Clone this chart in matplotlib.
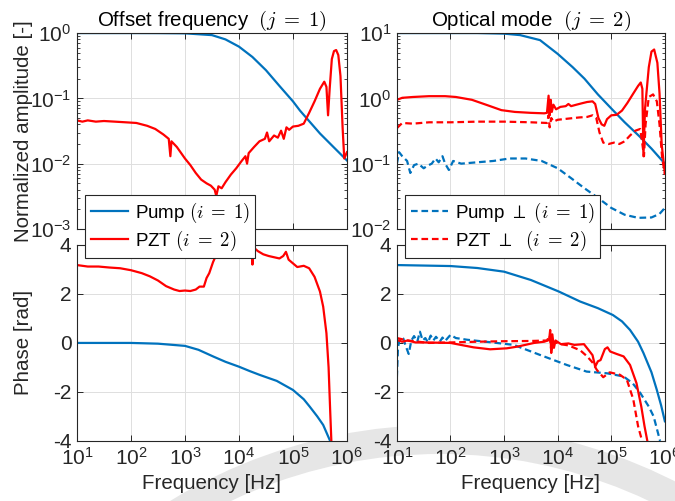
import numpy as np
import matplotlib
matplotlib.use("Agg")
import matplotlib.pyplot as plt
from matplotlib.patches import Wedge
from matplotlib.transforms import IdentityTransform

plt.rcParams['font.family'] = ['Liberation Sans', 'DejaVu Sans']
plt.rcParams['mathtext.fontset'] = 'cm'
plt.rcParams['axes.unicode_minus'] = False

BLUE = '#0072BD'
RED = '#FF0000'

# frequencies are given as log10(f / Hz)
# --- top left: offset frequency amplitude ---
off_pump_amp_dec = [1, 2, 2.5, 3, 3.5, 3.75, 4.0, 4.25, 4.5, 4.75, 5.0, 5.13, 5.25, 5.5, 5.75, 6.0]
off_pump_amp = [1.0, 1.0, 0.998, 0.99, 0.93, 0.8, 0.62, 0.43, 0.27, 0.155, 0.09, 0.065, 0.05, 0.029, 0.018, 0.0112]

off_pzt_amp_dec = [1.00, 1.10, 1.20, 1.35, 1.50, 1.70, 1.90, 2.10, 2.30, 2.45, 2.60, 2.70, 2.73, 2.75,
                   2.85, 3.00, 3.10, 3.20, 3.30, 3.40, 3.48, 3.55, 3.58, 3.62, 3.68, 3.75, 3.85, 3.95,
                   4.05, 4.12, 4.15, 4.18, 4.28, 4.38, 4.48, 4.52, 4.56, 4.65, 4.72, 4.78, 4.83, 4.88,
                   4.93, 5.00, 5.10, 5.20, 5.30, 5.40, 5.50, 5.58, 5.62, 5.65, 5.68, 5.72, 5.76, 5.80,
                   5.84, 5.88, 5.92, 5.95, 6.00]
off_pzt_amp = [0.046, 0.044, 0.046, 0.044, 0.045, 0.044, 0.043, 0.042, 0.038, 0.034, 0.028, 0.024, 0.013, 0.022,
               0.018, 0.012, 0.0095, 0.0072, 0.0057, 0.0050, 0.0046, 0.0040, 0.0032, 0.0045, 0.0042, 0.0052, 0.0068, 0.0085,
               0.011, 0.013, 0.010, 0.0145, 0.018, 0.022, 0.024, 0.030, 0.022, 0.027, 0.025, 0.032, 0.024, 0.036,
               0.033, 0.037, 0.038, 0.041, 0.060, 0.090, 0.14, 0.18, 0.15, 0.055, 0.14, 0.40, 0.53, 0.55,
               0.46, 0.22, 0.035, 0.012, 0.015]

# --- top right: optical mode amplitude ---
opt_pump_amp_dec = [1, 2, 2.5, 3, 3.3, 3.67, 4.0, 4.28, 4.5, 4.75, 5.03, 5.25, 5.53, 5.75, 6.0]
opt_pump_amp = [10, 10, 10, 9.8, 9.3, 7.8, 4.8, 3.0, 2.0, 1.15, 0.66, 0.43, 0.26, 0.17, 0.10]

opt_pzt_amp_dec = [1.00, 1.10, 1.30, 1.60, 1.90, 2.10, 2.40, 2.70, 2.95, 3.20, 3.50, 3.75, 3.80, 3.83,
                   3.85, 3.87, 3.89, 3.92, 3.97, 4.05, 4.15, 4.20, 4.25, 4.35, 4.45, 4.55, 4.65, 4.70,
                   4.76, 4.82, 4.87, 4.92, 5.00, 5.10, 5.20, 5.30, 5.40, 5.50, 5.55, 5.58, 5.60, 5.63,
                   5.70, 5.75, 5.80, 5.86, 5.90, 5.94, 6.00]
opt_pzt_amp = [0.95, 1.02, 1.05, 1.08, 1.08, 1.05, 0.95, 0.78, 0.66, 0.62, 0.60, 0.59, 0.60, 1.10,
               0.55, 0.95, 0.62, 0.80, 0.68, 0.74, 0.76, 0.82, 0.76, 0.80, 0.84, 0.88, 0.90, 0.82,
               0.50, 0.40, 0.38, 0.48, 0.55, 0.56, 0.65, 0.85, 1.15, 1.55, 1.75, 1.40, 0.13, 0.70,
               3.0, 5.2, 5.6, 3.5, 1.2, 0.2, 0.07]

opt_pzt_perp_amp_dec = [1.00, 1.10, 1.30, 1.60, 2.00, 2.50, 3.00, 3.50, 3.80, 3.83, 3.85, 3.88, 3.92, 4.00,
                        4.20, 4.40, 4.55, 4.65, 4.72, 4.78, 4.85, 4.95, 5.05, 5.15, 5.25, 5.35, 5.45, 5.54,
                        5.58, 5.61, 5.64, 5.70, 5.78, 5.85, 5.90, 5.95, 6.00]
opt_pzt_perp_amp = [0.35, 0.42, 0.41, 0.43, 0.43, 0.44, 0.44, 0.43, 0.42, 0.55, 0.36, 0.50, 0.44, 0.47,
                    0.49, 0.51, 0.52, 0.55, 0.50, 0.30, 0.21, 0.20, 0.21, 0.20, 0.22, 0.27, 0.32, 0.34,
                    0.20, 0.13, 0.40, 1.05, 1.15, 0.90, 0.40, 0.12, 0.07]

opt_pump_perp_amp_dec = [1.00, 1.04, 1.10, 1.19, 1.25, 1.32, 1.40, 1.50, 1.56, 1.65, 1.72, 1.78, 1.85, 1.90,
                         1.97, 2.05, 2.20, 2.50, 2.80, 3.10, 3.40, 3.70, 4.00, 4.25, 4.50, 4.75, 5.00, 5.25,
                         5.50, 5.75, 5.90, 6.00]
opt_pump_perp_amp = [0.10, 0.15, 0.13, 0.11, 0.072, 0.095, 0.10, 0.085, 0.092, 0.10, 0.12, 0.105, 0.13, 0.10,
                     0.08, 0.11, 0.10, 0.105, 0.11, 0.12, 0.12, 0.11, 0.085, 0.060, 0.042, 0.030, 0.021, 0.0165,
                     0.0148, 0.015, 0.017, 0.021]

# --- bottom left: offset frequency phase ---
off_pump_ph_dec = [1, 2, 2.5, 3, 3.25, 3.53, 3.75, 4.0, 4.2, 4.39, 4.7, 5.0, 5.2, 5.31, 5.45, 5.56, 5.68]
off_pump_ph = [0, 0, -0.03, -0.12, -0.28, -0.56, -0.77, -0.97, -1.15, -1.31, -1.55, -1.92, -2.3, -2.6, -3.0, -3.35, -3.96]

off_pzt_ph_dec = [1.00, 1.20, 1.40, 1.60, 1.80, 2.00, 2.20, 2.35, 2.50, 2.65, 2.80, 2.90, 3.00, 3.10,
                  3.20, 3.27, 3.35, 3.40, 3.45, 3.52, 3.58, 3.64, 3.70, 3.90, 4.10, 4.22, 4.24, 4.25,
                  4.27, 4.35, 4.45, 4.55, 4.65, 4.75, 4.82, 4.87, 4.92, 5.00, 5.08, 5.20, 5.30, 5.40,
                  5.50, 5.56, 5.62, 5.66, 5.69, 5.72]
off_pzt_ph = [3.18, 3.12, 3.12, 3.08, 3.05, 2.97, 2.85, 2.72, 2.55, 2.32, 2.18, 2.12, 2.14, 2.12,
              2.18, 2.30, 2.30, 2.65, 2.85, 3.30, 3.60, 3.78, 4.05, 4.3, 4.3, 4.05, 3.93, 3.20,
              3.90, 3.75, 3.62, 3.55, 3.50, 3.45, 3.55, 3.72, 3.40, 3.25, 3.10, 3.15, 3.05, 2.70,
              2.10, 1.48, 0.40, -1.0, -2.8, -4.5]

# --- bottom right: optical mode phase ---
opt_pump_ph_dec = [1, 2, 2.5, 3, 3.5, 4.02, 4.42, 4.75, 5.03, 5.2, 5.35, 5.5, 5.6, 5.75, 5.85, 5.93, 6.0]
opt_pump_ph = [3.18, 3.14, 3.06, 2.91, 2.57, 2.1, 1.69, 1.42, 1.14, 0.88, 0.53, 0.05, -0.41, -1.2, -1.92, -2.55, -3.2]

opt_pump_perp_ph_dec = [1.00, 1.02, 1.04, 1.08, 1.12, 1.16, 1.22, 1.27, 1.32, 1.38, 1.43, 1.48, 1.53, 1.58,
                        1.63, 1.68, 1.73, 1.80, 1.85, 1.90, 2.00, 2.10, 2.31, 2.74, 3.18, 3.67, 4.17, 4.54,
                        4.92, 5.23, 5.40, 5.54, 5.70, 5.79, 5.91]
opt_pump_perp_ph = [-1.40, -0.20, 0.05, 0.20, 0.18, -0.10, -0.45, 0.10, 0.28, 0.05, 0.46, 0.10, 0.20, 0.02,
                    0.30, 0.10, 0.25, 0.05, 0.22, 0.08, 0.33, 0.20, 0.13, 0.03, -0.08, -0.49, -0.90, -1.17,
                    -1.24, -1.37, -1.65, -2.04, -2.60, -3.00, -4.00]

opt_pzt_ph_dec = [1.00, 1.10, 1.20, 1.35, 1.50, 2.00, 2.43, 2.74, 3.05, 3.25, 3.56, 3.75, 3.84, 3.86,
                  3.88, 3.90, 3.93, 3.96, 4.06, 4.20, 4.31, 4.49, 4.58, 4.65, 4.70, 4.75, 4.80, 4.88,
                  4.93, 4.98, 5.10, 5.23, 5.35, 5.47, 5.56, 5.62, 5.69]
opt_pzt_ph = [0.12, 0.05, 0.10, 0.02, 0.02, 0.00, -0.18, -0.26, -0.22, -0.15, 0.00, 0.05, 0.12, 0.53,
              -0.41, 0.35, -0.20, 0.10, -0.05, -0.02, -0.08, -0.05, -0.30, -0.50, -0.97, -0.75, -0.70, -0.25,
              -0.18, -0.35, -0.45, -0.55, -0.90, -1.64, -2.60, -3.40, -4.20]

opt_pzt_perp_ph_dec = [1.00, 1.20, 1.40, 1.60, 2.00, 2.50, 3.00, 3.50, 3.80, 3.85, 3.88, 3.92, 4.05, 4.20,
                       4.42, 4.55, 4.65, 4.73, 4.85, 4.97, 5.16, 5.29, 5.41, 5.50, 5.60]
opt_pzt_perp_ph = [0.20, 0.10, 0.05, 0.00, 0.02, 0.05, 0.07, 0.08, 0.10, 0.30, -0.30, 0.05, -0.05, -0.10,
                   -0.30, -0.55, -0.80, -1.10, -1.40, -1.20, -1.30, -1.50, -2.30, -3.40, -4.20]

xticks = [1e1, 1e2, 1e3, 1e4, 1e5, 1e6]

legend_left = [r'Pump $(i\;=\;1)$', r'PZT $(i\;=\;2)$']
legend_right = [r'Pump $\perp$ $(i\;=\;1)$', r'PZT $\perp$  $(i\;=\;2)$']


def hz(dec):
    return 10.0 ** np.asarray(dec)


def style_axes(ax, log_y):
    ax.set_xscale('log')
    if log_y:
        ax.set_yscale('log')
    ax.set_xlim(1e1, 1e6)
    ax.set_xticks(xticks)
    ax.grid(True, which='major', color='#dedede', linewidth=0.7)
    ax.set_axisbelow(True)
    ax.tick_params(which='both', direction='in', top=True, right=True,
                   colors='#262626', labelsize=15, pad=4)
    ax.tick_params(which='major', length=4, width=0.7)
    ax.tick_params(which='minor', length=2.2, width=0.6)
    for s in ax.spines.values():
        s.set_color('#262626')
        s.set_linewidth(0.8)


fig = plt.figure(figsize=(6.75, 5.01), dpi=100)

# grey swoosh in the page background
fig.add_artist(Wedge((440, -442), 518, 0, 180, width=29, transform=IdentityTransform(),
                     facecolor='#e6e6e6', edgecolor='none', zorder=-1))

W = 0.400
H = 0.391
ax_a1 = fig.add_axes([0.114, 0.543, W, H])
ax_a2 = fig.add_axes([0.588, 0.543, 0.397, H])
ax_p1 = fig.add_axes([0.114, 0.120, W, H])
ax_p2 = fig.add_axes([0.588, 0.120, 0.397, H])

lw = 1.6
dash = (3.0, 1.7)

# amplitude, offset frequency
style_axes(ax_a1, True)
l_pump, = ax_a1.plot(hz(off_pump_amp_dec), off_pump_amp, color=BLUE, lw=lw)
l_pzt, = ax_a1.plot(hz(off_pzt_amp_dec), off_pzt_amp, color=RED, lw=lw)
ax_a1.set_ylim(1e-3, 1e0)
ax_a1.set_yticks([1e-3, 1e-2, 1e-1, 1e0])
ax_a1.tick_params(labelbottom=False)
ax_a1.set_ylabel('Normalized amplitude [-]', fontsize=14.8, color='#262626')
ax_a1.yaxis.set_label_coords(-0.163, 0.5)
ax_a1.set_title(r'Offset frequency  $(j\;=\;1)$', fontsize=14.8, pad=4)

# amplitude, optical mode
style_axes(ax_a2, True)
ax_a2.plot(hz(opt_pump_amp_dec), opt_pump_amp, color=BLUE, lw=lw)
l_pump_p, = ax_a2.plot(hz(opt_pump_perp_amp_dec), opt_pump_perp_amp, color=BLUE, lw=lw, dashes=dash)
ax_a2.plot(hz(opt_pzt_amp_dec), opt_pzt_amp, color=RED, lw=lw)
l_pzt_p, = ax_a2.plot(hz(opt_pzt_perp_amp_dec), opt_pzt_perp_amp, color=RED, lw=lw, dashes=dash)
ax_a2.set_ylim(1e-2, 1e1)
ax_a2.set_yticks([1e-2, 1e-1, 1e0, 1e1])
ax_a2.tick_params(labelbottom=False)
ax_a2.set_title(r'Optical mode  $(j\;=\;2)$', fontsize=14.8, pad=4)

# phase, offset frequency
style_axes(ax_p1, False)
ax_p1.plot(hz(off_pump_ph_dec), off_pump_ph, color=BLUE, lw=lw)
ax_p1.plot(hz(off_pzt_ph_dec), off_pzt_ph, color=RED, lw=lw)
ax_p1.set_ylim(-4, 4)
ax_p1.set_yticks([-4, -2, 0, 2, 4])
ax_p1.set_ylabel('Phase [rad]', fontsize=14.8, color='#262626')
ax_p1.yaxis.set_label_coords(-0.163, 0.5)
ax_p1.set_xlabel('Frequency [Hz]', fontsize=14.8, color='#262626')

# phase, optical mode
style_axes(ax_p2, False)
ax_p2.plot(hz(opt_pump_ph_dec), opt_pump_ph, color=BLUE, lw=lw)
ax_p2.plot(hz(opt_pump_perp_ph_dec), opt_pump_perp_ph, color=BLUE, lw=lw, dashes=dash)
ax_p2.plot(hz(opt_pzt_ph_dec), opt_pzt_ph, color=RED, lw=lw)
ax_p2.plot(hz(opt_pzt_perp_ph_dec), opt_pzt_perp_ph, color=RED, lw=lw, dashes=dash)
ax_p2.set_ylim(-4, 4)
ax_p2.set_yticks([-4, -2, 0, 2, 4])
ax_p2.set_xlabel('Frequency [Hz]', fontsize=14.8, color='#262626')

# legends sit across the gap between the rows
leg_kw = dict(fontsize=13.5, frameon=True, fancybox=False, framealpha=1, edgecolor='#262626',
              handlelength=2.0, handletextpad=0.35, borderpad=0.3, labelspacing=0.2,
              borderaxespad=0)
leg1 = fig.legend([l_pump, l_pzt], legend_left,
                  loc='upper left', bbox_to_anchor=(85 / 675, 1 - 195 / 501), **leg_kw)
leg2 = fig.legend([l_pump_p, l_pzt_p], legend_right,
                  loc='upper left', bbox_to_anchor=(405 / 675, 1 - 195 / 501), **leg_kw)
for leg in (leg1, leg2):
    leg.get_frame().set_linewidth(0.8)

fig.savefig('out.png', dpi=100)
